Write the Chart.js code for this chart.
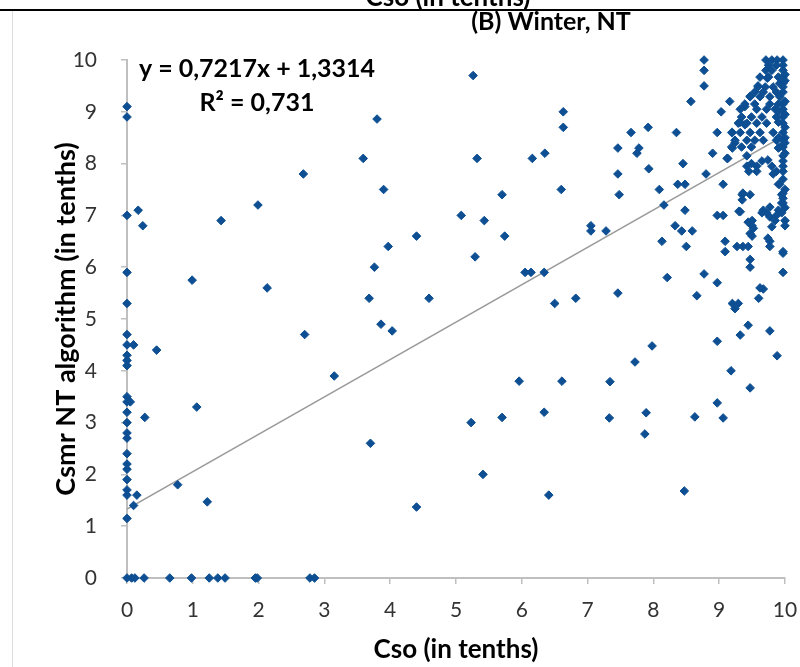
<!doctype html>
<html>

<head>
	<title>Winter, NT</title>
	<script src="https://cdn.jsdelivr.net/npm/chart.js@4/dist/chart.umd.min.js"></script>
	<style>
	html, body {
		margin: 0;
		padding: 0;
		background: #fff;
	}
	#container {
		width: 800px;
		height: 667px;
	}
	</style>
</head>

<body>
	<div id="container">
		<canvas id="canvas"></canvas>
	</div>
	<script>
		const csoValues = [
			0, 0, 0, 0, 0, 0, 0, 0, 0, 0, 0, 0, 0, 0, 0, 0, 0, 0, 0, 0, 0, 0, 0, 0,
			0.1, 0.05, 0.15, 0.1, 0.45, 0.27, 1.06, 0.77, 1.22, 2.7, 3.15, 0.17, 0.24, 1.43, 1.99, 2.68, 0.99, 2.13,
			0.07, 0.12, 0.26, 0.65, 0.98, 1.25, 1.38, 1.49, 1.95, 1.98, 2.78, 2.85,
			5.26, 3.8, 3.59, 5.32, 6.16, 6.35, 6.63, 6.63, 3.9, 5.7, 6.6, 5.08, 5.43, 4.4, 5.74, 3.97, 3.76, 5.29,
			6.05, 6.14, 6.34, 3.68, 4.59, 6.5, 6.82, 3.86, 4.03, 5.96, 6.61, 6.34, 5.23, 5.7, 3.7, 5.41, 6.41, 4.4,
			8.77, 8.77, 8.77, 8.57, 9.16, 7.92, 7.66, 8.35, 7.46, 7.78, 7.75, 8.45, 7.46, 7.93, 7.48, 8.09, 8.37, 8.48,
			8.8, 8.9, 9.06, 9.12, 8.16, 8.48, 7.05, 7.05, 7.28, 8.33, 8.43, 8.59, 8.13, 8.5, 8.97, 9.06, 8.21, 8.77,
			8.97, 7.46, 8.66, 7.98, 7.72, 7.34, 9.18, 9.47, 8.97, 9.06, 8.63, 7.89, 7.87, 7.33, 8.47,
			9.09, 9.09, 9.27, 9.36, 9.44, 9.47, 9.47, 9.35, 9.47, 9.35, 9.32, 9.44, 9.5, 9.47, 9.67, 9.72, 9.77, 9.77,
			9.8, 9.77, 9.77, 9.9, 9.9, 9.95, 9.95, 9.95, 9.97, 9.97, 9.62, 9.6, 9.2, 9.29, 9.24, 9.44, 9.32, 9.77,
			8.97, 9.88, 9.67,
			9.03, 9.39, 9.47, 9.59, 9.73, 9.32, 8.97, 9.2, 9.39, 9.24, 9.2, 9.13,
			9.42, 9.49, 9.42, 9.57, 9.65, 9.57, 9.45, 9.74, 9.8, 9.87, 9.82, 9.97, 9.97, 9.97, 9.97, 9.97, 9.92,
			9.36, 9.97, 9.97, 9.97, 9.87, 9.85, 9.3, 9.65, 9.5, 9.52, 9.5, 9.74, 9.97,
			9.71, 9.8, 9.88, 9.97, 9.75, 9.87, 9.97, 9.71, 9.8, 9.97, 9.62, 9.75, 9.9, 9.97, 9.92, 9.97,
			9.59, 9.7, 9.82, 9.97, 9.54, 9.67, 9.87, 9.97, 9.47, 9.62, 9.77, 9.92, 9.39, 9.54, 9.77, 9.9, 9.97,
			9.32, 9.57, 9.72, 9.85, 9.97, 9.34, 9.49, 9.65, 9.87, 9.97, 9.29, 9.42, 9.57, 9.72, 9.97,
			9.19, 9.32, 9.47, 9.62, 9.82, 9.97, 9.24, 9.42, 9.54, 9.67, 9.87, 9.97, 9.19, 9.34, 9.49, 9.92, 9.97,
			10, 10, 10, 10, 10, 10, 10, 10, 10, 10, 10, 10, 9.9, 9.9, 9.9, 9.9
		];
		const csmrValues = [
			9.1, 8.9, 7.0, 5.9, 5.3, 4.7, 4.5, 4.3, 4.2, 4.1, 3.5, 3.4, 3.2, 3.0, 2.8, 2.7, 2.4, 2.2, 2.1, 1.9, 1.7, 1.6, 1.15, 0,
			4.5, 3.4, 1.6, 1.4, 4.4, 3.1, 3.3, 1.8, 1.47, 4.7, 3.9, 7.1, 6.8, 6.9, 7.2, 7.8, 5.75, 5.6,
			0, 0, 0, 0, 0, 0, 0, 0, 0, 0, 0, 0,
			9.7, 8.86, 8.1, 8.1, 8.1, 8.2, 9.0, 8.7, 7.5, 7.4, 7.5, 7.0, 6.9, 6.6, 6.6, 6.4, 6.0, 6.2,
			5.9, 5.9, 5.9, 5.4, 5.4, 5.3, 5.4, 4.9, 4.77, 3.8, 3.8, 3.2, 3.0, 3.1, 2.6, 2.0, 1.6, 1.37,
			10.0, 9.8, 9.5, 9.2, 9.2, 8.7, 8.6, 8.6, 8.3, 8.3, 8.2, 8.0, 7.8, 7.9, 7.4, 7.5, 7.6, 7.6,
			7.8, 8.2, 7.6, 8.1, 7.2, 7.1, 6.8, 6.7, 6.7, 6.8, 6.7, 6.7, 6.5, 6.4, 7.0, 7.0, 5.8, 5.87,
			5.7, 5.5, 5.45, 4.48, 4.17, 3.79, 4.0, 3.67, 3.38, 3.09, 3.11, 3.19, 2.78, 3.09, 1.68,
			6.5, 6.3, 6.4, 6.4, 6.4, 6.15, 6.0, 7.4, 7.4, 7.3, 7.07, 6.87, 6.8, 6.65, 7.1, 7.05, 7.16, 6.97,
			6.78, 6.5, 6.4, 7.6, 7.1, 7.4, 7.24, 7.05, 6.27, 5.9, 5.6, 5.4, 5.3, 5.3, 5.2, 4.88, 4.69, 4.77,
			4.57, 4.29, 5.58,
			9.0, 9.1, 9.3, 9.5, 9.65, 8.8, 8.6, 8.6, 8.75, 8.4, 8.3, 8.1,
			8.15, 8.0, 7.95, 7.95, 8.05, 7.85, 7.85, 8.07, 7.95, 7.85, 7.8, 8.15, 8.05, 7.95, 7.85, 7.7, 7.6,
			7.43, 7.43, 7.33, 7.24, 7.0, 6.9, 7.08, 7.05, 6.9, 6.75, 6.6, 6.56, 6.3,
			10.0, 10.0, 10.0, 10.0, 9.9, 9.9, 9.9, 9.8, 9.8, 9.8, 9.67, 9.67, 9.67, 9.67, 9.55, 9.55,
			9.48, 9.48, 9.48, 9.48, 9.38, 9.38, 9.38, 9.38, 9.29, 9.29, 9.29, 9.29, 9.15, 9.15, 9.15, 9.15, 9.15,
			9.05, 9.05, 9.05, 9.05, 9.05, 8.9, 8.9, 8.9, 8.9, 8.9, 8.78, 8.78, 8.78, 8.78, 8.78,
			8.6, 8.6, 8.6, 8.6, 8.6, 8.6, 8.45, 8.45, 8.45, 8.45, 8.45, 8.45, 8.32, 8.32, 8.32, 8.32, 8.32,
			9.72, 9.6, 9.2, 8.95, 8.7, 8.5, 8.4, 8.2, 7.5, 7.15, 6.9, 6.8, 9.0, 8.8, 8.5, 8.3
		];
		const tickValues = [0, 1, 2, 3, 4, 5, 6, 7, 8, 9, 10];
		const slope = 0.7217;
		const intercept = 1.3314;
		const rSquared = '0,731';

		const points = csoValues.map((x, i) => ({x: x, y: csmrValues[i]}));
		const trend = [tickValues[0], tickValues[tickValues.length - 1]].map((x) => ({x: x, y: slope * x + intercept}));

		const axisColor = '#bfbfbf';
		const labelFont = {family: 'Lato', size: 21};
		const titleFont = {family: 'Lato', size: 26, weight: 'bold'};

		// page decorations + equation text, drawn like the Excel figure
		const decorations = {
			id: 'decorations',
			afterDraw(chart) {
				const ctx = chart.ctx;
				ctx.save();
				ctx.strokeStyle = '#dcdcdc';
				ctx.lineWidth = 1;
				ctx.beginPath();
				ctx.moveTo(12.5, 10);
				ctx.lineTo(12.5, 667);
				ctx.stroke();
				ctx.strokeStyle = '#000';
				ctx.lineWidth = 2;
				ctx.beginPath();
				ctx.moveTo(0, 10);
				ctx.lineTo(800, 10);
				ctx.stroke();
				ctx.fillStyle = '#000';
				ctx.textBaseline = 'alphabetic';
				ctx.textAlign = 'center';
				ctx.font = 'bold 26px Lato';
				ctx.fillText('Cso (in tenths)', 448, 6);
				ctx.font = 'bold 25px Lato';
				ctx.fillText('(B) Winter, NT', 551, 30);
				ctx.font = 'bold 25px Lato';
				ctx.fillText('y = ' + slope.toString().replace('.', ',') + 'x + ' + intercept.toString().replace('.', ','), 257, 77);
				ctx.fillText('R\u00b2 = ' + rSquared, 257, 111);
				ctx.restore();
			}
		};

		window.onload = function() {
			const ctx = document.getElementById('canvas').getContext('2d');
			window.myChart = new Chart(ctx, {
				type: 'scatter',
				data: {
					datasets: [{
						label: 'Cso vs Csmr',
						data: points,
						pointStyle: 'rectRot',
						pointRadius: 4.3,
						backgroundColor: '#0d4f92',
						borderColor: '#0d4f92',
						borderWidth: 1,
						clip: false,
						order: 1
					}, {
						type: 'line',
						label: 'Linear',
						data: trend,
						borderColor: '#9a9a9a',
						borderWidth: 1.5,
						pointRadius: 0,
						fill: false,
						order: 2
					}]
				},
				options: {
					responsive: true,
					maintainAspectRatio: false,
					animation: false,
					layout: {
						padding: {left: 0, top: 60, right: 15, bottom: 0}
					},
					plugins: {
						legend: {display: false},
						tooltip: {enabled: false}
					},
					scales: {
						x: {
							type: 'linear',
							min: 0,
							max: 10,
							afterFit(scale) {
								scale.height = 89;
								scale.paddingLeft = 0;
								scale.paddingRight = 0;
							},
							afterBuildTicks(scale) {
								scale.ticks = tickValues.map((v) => ({value: v}));
							},
							border: {color: axisColor, width: 2},
							grid: {display: true, drawOnChartArea: false, color: axisColor, tickLength: 6, lineWidth: 1.5},
							ticks: {color: '#333', font: labelFont, padding: 14},
							title: {display: true, text: 'Cso (in tenths)', color: '#000', font: titleFont, padding: {top: 2, bottom: 2}}
						},
						y: {
							type: 'linear',
							min: 0,
							max: 10,
							afterFit(scale) {
								scale.width = 127;
								scale.paddingTop = 0;
								scale.paddingBottom = 0;
							},
							afterBuildTicks(scale) {
								scale.ticks = tickValues.map((v) => ({value: v}));
							},
							border: {color: axisColor, width: 2},
							grid: {display: true, drawOnChartArea: false, color: axisColor, tickLength: 6, lineWidth: 1.5},
							ticks: {color: '#333', font: labelFont, padding: 24},
							title: {display: true, text: 'Csmr NT algorithm (in tenths)', color: '#000', font: {family: 'Lato', size: 27, weight: 'bold'}, padding: {top: 50, bottom: 0}}
						}
					}
				},
				plugins: [decorations]
			});
		};
	</script>
</body>

</html>
